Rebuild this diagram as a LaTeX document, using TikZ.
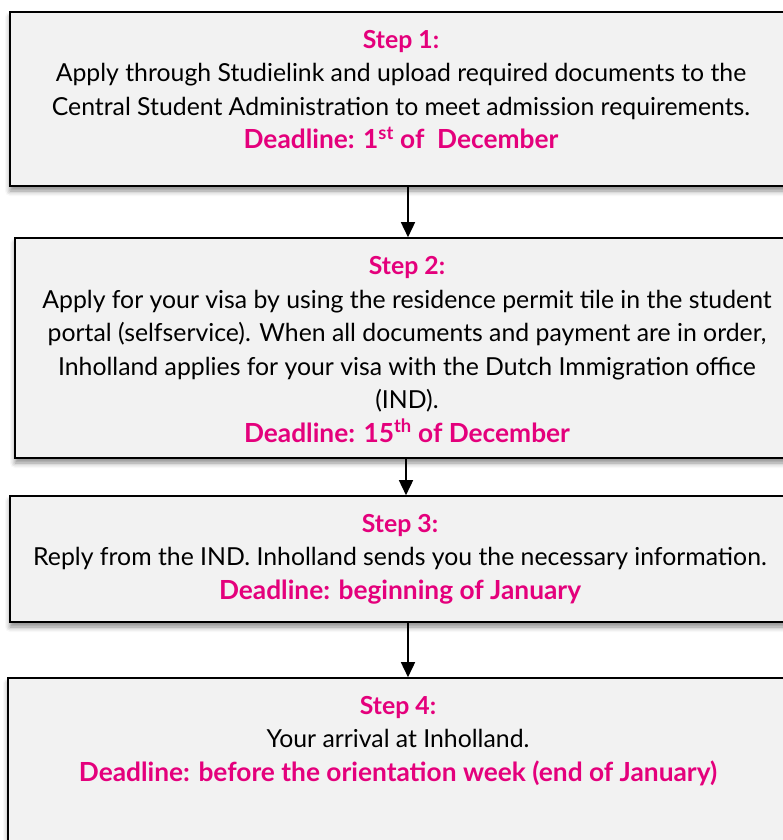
\documentclass[tikz,border=0pt]{standalone}
\usepackage{fontspec}
\setmainfont{Lato}
\usepackage{xcolor}
\usetikzlibrary{
    positioning,
    shadows,
    shadows.blur,
    calc,
    arrows.meta
}
\definecolor{deadpink}{RGB}{228,0,124}
\definecolor{boxgrey}{RGB}{242,242,242}
\tikzset{
  stepbox/.style = {
      draw,
      rectangle,
      line width=1.6pt,
      fill=boxgrey,
      inner sep=0pt,
      blur shadow={shadow xshift=0pt, shadow yshift=-5pt,
                   shadow blur radius=5pt, shadow opacity=45}
  },
  steptext/.style = {
      align=center,
      anchor=base,
      inner sep=0pt,
      font=\fontsize{24.8}{33.5}\selectfont
  },
  flow/.style = {
      draw,
      line width=1.6pt,
      -{Triangle[length=15pt,width=14pt]}
  }
}
\newcommand{\pinkbold}[1]{{\color{deadpink}\bfseries #1}}
\newcommand{\deadline}[1]{{\color{deadpink}\bfseries\fontsize{26.3}{33.5}\selectfont #1}}

\begin{document}
\begin{tikzpicture}[x=1pt, y=-1pt]
        \useasboundingbox (0,0) rectangle (782,840);
        % Boxes
        \node[stepbox, minimum width=780pt, minimum height=174pt] (b1) at (400,99) {};
        \node[stepbox, minimum width=775pt, minimum height=220pt] (b2) at (402.5,348) {};
        \node[stepbox, minimum width=780pt, minimum height=126pt] (b3) at (400,559) {};
        \node[stepbox, minimum width=782pt, minimum height=192pt] (b4) at (399,774) {};
        % Texts (anchored at the baseline of the deadline line)
        \node[steptext] (t1) at (401,149) {\pinkbold{Step 1:}\\
            Apply through Studielink and upload required documents to the\\
            Central Student Administration to meet admission requirements.\\
            \deadline{Deadline: 1\textsuperscript{st} of~ December}};
        \node[steptext] (t2) at (407,442) {\pinkbold{Step 2:}\\
            Apply for your visa by using the residence permit tile in the student\\
            portal (selfservice). When all documents and payment are in order,\\
            Inholland applies for your visa with the Dutch Immigration office\\
            (IND).\\
            \deadline{Deadline: 15\textsuperscript{th} of December}};
        \node[steptext] (t3) at (400,599) {\pinkbold{Step 3:}\\
            Reply from the IND. Inholland sends you the necessary information.\\
            \deadline{Deadline: beginning of January}};
        \node[steptext] (t4) at (398,781) {\pinkbold{Step 4:}\\
            Your arrival at Inholland.\\
            \deadline{Deadline: before the orientation week (end of January)}};
        % Edges
        \path[flow] ([xshift=8pt]b1.south) -- ([xshift=8pt]b1.south |- b2.north);
        \path[flow] ([xshift=3.5pt]b2.south) -- ([xshift=3.5pt]b2.south |- b3.north);
        \path[flow] ([xshift=8pt]b3.south) -- ([xshift=8pt]b3.south |- b4.north);
\end{tikzpicture}
\end{document}
